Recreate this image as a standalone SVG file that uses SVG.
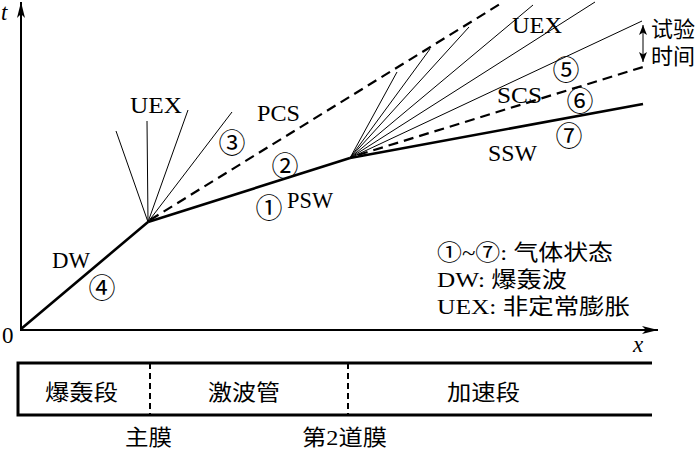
<svg xmlns="http://www.w3.org/2000/svg" width="700" height="451" viewBox="0 0 700 451">
<defs>
<marker id="arr" viewBox="0 0 16 8" refX="16" refY="4" markerWidth="16" markerHeight="8" markerUnits="userSpaceOnUse" orient="auto-start-reverse">
<path d="M0,0 L16,4 L0,8 L4,4 Z" fill="#000"/>
</marker>
<marker id="arrs" viewBox="0 0 10 8" refX="10" refY="4" markerWidth="10" markerHeight="8" markerUnits="userSpaceOnUse" orient="auto-start-reverse">
<path d="M0,0 L10,4 L0,8 L2.5,4 Z" fill="#000"/>
</marker>
</defs>
<style>
.lat{font-family:"Liberation Serif","Noto Sans CJK SC",serif;font-size:23px;fill:#000}
.cjk{font-family:"Liberation Serif","Noto Sans CJK SC",serif;font-size:22px;fill:#000}
.cir{font-family:"Noto Sans CJK SC",sans-serif;font-size:27px;fill:#000;text-anchor:middle}
.ax{stroke:#000;stroke-width:2;fill:none}
.thick{stroke:#000;stroke-width:2.6;fill:none}
.thin{stroke:#000;stroke-width:1;fill:none}
.dash{stroke:#000;stroke-width:2.2;fill:none;stroke-dasharray:10,6}
.box{stroke:#000;stroke-width:3;fill:none}
.div{stroke:#000;stroke-width:2;fill:none;stroke-dasharray:6,4}
</style>
<rect width="700" height="451" fill="#fff"/>
<g id="axes">
<line class="ax" x1="21" y1="331" x2="21" y2="2" marker-end="url(#arr)"/>
<line class="ax" x1="20" y1="330" x2="658" y2="330" marker-end="url(#arr)"/>
<text class="lat" x="1" y="20" font-style="italic">t</text>
<text class="lat" x="633" y="352" font-style="italic">x</text>
<text class="lat" x="2" y="343">0</text>
</g>
<g id="connectors">
<line class="thick" x1="21" y1="329" x2="148" y2="222"/>
<line class="thick" x1="148" y1="222" x2="350" y2="158"/>
<line class="thick" x1="350" y1="158" x2="643" y2="104"/>
<line class="thin" x1="148" y1="222" x2="116" y2="131"/>
<line class="thin" x1="148" y1="222" x2="147" y2="121"/>
<line class="thin" x1="148" y1="222" x2="188" y2="110"/>
<line class="thin" x1="148" y1="222" x2="232" y2="112"/>
<line class="dash" x1="150" y1="220" x2="500" y2="4"/>
<line class="thin" x1="350" y1="158" x2="397" y2="72"/>
<line class="thin" x1="350" y1="158" x2="430" y2="49"/>
<line class="thin" x1="350" y1="158" x2="469" y2="27"/>
<line class="thin" x1="350" y1="158" x2="533" y2="5"/>
<line class="thin" x1="350" y1="158" x2="595" y2="2"/>
<line class="thin" x1="350" y1="158" x2="642" y2="21"/>
<line class="dash" x1="358" y1="155" x2="643" y2="67"/>
<line class="thin" x1="643" y1="25" x2="643" y2="62" marker-start="url(#arrs)" marker-end="url(#arrs)"/>
</g>
<g id="labels">
<text class="lat" x="130" y="113" textLength="52" lengthAdjust="spacingAndGlyphs">UEX</text>
<text class="lat" x="257" y="121" textLength="43" lengthAdjust="spacingAndGlyphs">PCS</text>
<text class="lat" x="287" y="208" textLength="46" lengthAdjust="spacingAndGlyphs">PSW</text>
<text class="lat" x="52" y="268" textLength="38" lengthAdjust="spacingAndGlyphs">DW</text>
<text class="lat" x="512" y="33" textLength="50" lengthAdjust="spacingAndGlyphs">UEX</text>
<text class="lat" x="497" y="103" textLength="45" lengthAdjust="spacingAndGlyphs">SCS</text>
<text class="lat" x="488" y="161" textLength="49" lengthAdjust="spacingAndGlyphs">SSW</text>
<text class="cjk" x="651" y="37">试验</text>
<text class="cjk" x="651" y="64">时间</text>
<text class="cir" x="269" y="218">①</text>
<text class="cir" x="285" y="176">②</text>
<text class="cir" x="232" y="153">③</text>
<text class="cir" x="102" y="298">④</text>
<text class="cir" x="566" y="80">⑤</text>
<text class="cir" x="580" y="111">⑥</text>
<text class="cir" x="569" y="146">⑦</text>
</g>
<g id="legend">
<text class="cjk" x="437" y="260" textLength="176" lengthAdjust="spacingAndGlyphs">①~⑦: 气体状态</text>
<text class="cjk" x="437" y="287" textLength="130" lengthAdjust="spacingAndGlyphs">DW: 爆轰波</text>
<text class="cjk" x="437" y="314" textLength="193" lengthAdjust="spacingAndGlyphs">UEX: 非定常膨胀</text>
</g>
<g id="tube">
<path class="box" d="M652,363 H18 V415 H652"/>
<line class="div" x1="150" y1="363" x2="150" y2="415"/>
<line class="div" x1="348" y1="363" x2="348" y2="415"/>
<text class="cjk" x="45" y="400" textLength="73" lengthAdjust="spacingAndGlyphs">爆轰段</text>
<text class="cjk" x="208" y="400" textLength="72" lengthAdjust="spacingAndGlyphs">激波管</text>
<text class="cjk" x="447" y="400" textLength="73" lengthAdjust="spacingAndGlyphs">加速段</text>
<text class="cjk" x="125" y="445" textLength="47" lengthAdjust="spacingAndGlyphs">主膜</text>
<text class="cjk" x="302" y="445" textLength="85" lengthAdjust="spacingAndGlyphs">第2道膜</text>
</g>
</svg>
